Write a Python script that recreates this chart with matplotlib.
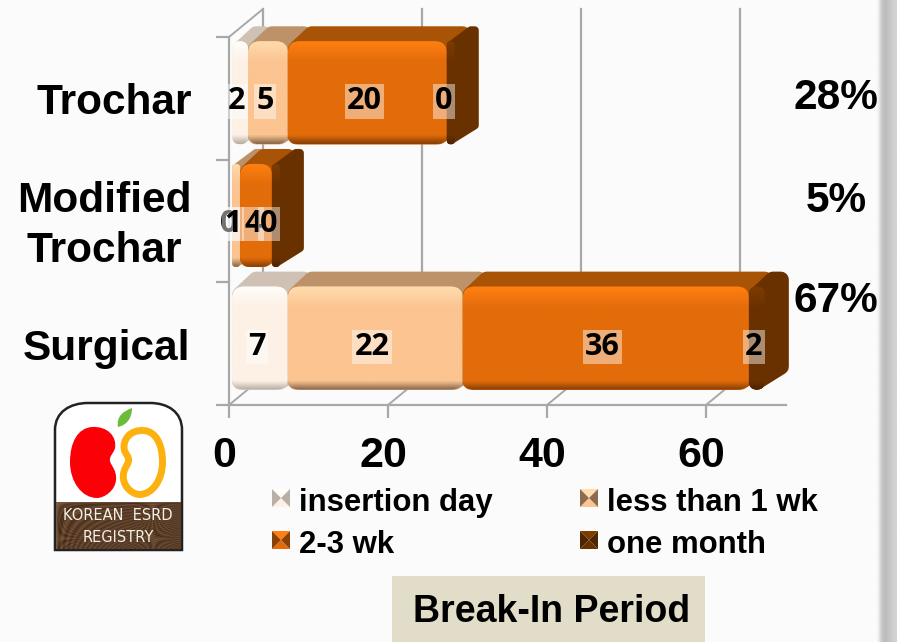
import numpy as np
import matplotlib
matplotlib.use("Agg")
import matplotlib.pyplot as plt
from matplotlib.colors import to_rgb
from matplotlib.patches import FancyBboxPatch, PathPatch, Polygon, Rectangle
from matplotlib.path import Path
from matplotlib.transforms import ScaledTranslation

# data, bottom row first
categories = ["Surgical", "Modified\nTrochar", "Trochar"]
series_names = ["insertion day", "less than 1 wk", "2-3 wk", "one month"]
insertion_day = [7, 0, 2]
less_than_1wk = [22, 1, 5]
two_three_wk = [36, 4, 20]
one_month = [2, 0, 0]
shares = ["67%", "5%", "28%"]
x_ticks = [0, 20, 40, 60]
y_ticks = [0, 1, 2, 3]

W, H = 897, 642
BG = "#fbfbfb"
GRID = "#a8a8a8"
SANS = "Liberation Sans"

# front, light edge, dark edge, top face
shades = [
    ("#fdf1e6", "#fffdfa", "#b9afa5", "#cfc2b4"),
    ("#fbc491", "#ffdcae", "#8d6b4c", "#bd9268"),
    ("#e36c0a", "#ff8011", "#8b4105", "#a85305"),
    ("#6a3100", "#7d3c02", "#4f2400", "#6a3100"),
]

fig = plt.figure(figsize=(W / 100, H / 100), dpi=100, facecolor=BG)

# pixel layer for everything outside the plot
bg = fig.add_axes([0, 0, 1, 1], zorder=0)
bg.set_xlim(0, W)
bg.set_ylim(H, 0)
bg.axis("off")

# grey band on the right edge
band = np.array([[0.98, 0.93, 0.85, 0.78, 0.75, 0.74, 0.75, 0.77, 0.79, 0.81, 0.82, 0.83]])
bg.imshow(band, extent=(876, W, H, 0), cmap="gray", vmin=0, vmax=1,
          aspect="auto", interpolation="bilinear")
bg.set_xlim(0, W)
bg.set_ylim(H, 0)

# plot area, front plane
px0, px1, py0, py1 = 229, 785.5, 405, 37
ax = fig.add_axes([px0 / W, 1 - py0 / H, (px1 - px0) / W, (py0 - py1) / H], zorder=1)
ax.patch.set_visible(False)
ax.set_xlim(0, 70)
ax.set_ylim(0, 3)
ux = (px1 - px0) / 70
uy = (py0 - py1) / 3

for s in ["top", "right"]:
    ax.spines[s].set_visible(False)
for s in ["left", "bottom"]:
    ax.spines[s].set_color(GRID)
    ax.spines[s].set_linewidth(1.6)
ax.set_xticks(x_ticks)
ax.set_yticks(y_ticks)
ax.set_yticklabels([])
ax.tick_params(axis="both", length=9.5, width=1.6, color=GRID)
ax.tick_params(axis="x", pad=13, labelsize=31)
# tick labels sit a little left of their ticks
shift = ScaledTranslation(-5 / 100, 0, fig.dpi_scale_trans)
for t in ax.get_xticklabels():
    t.set_fontfamily(SANS)
    t.set_fontweight("bold")
    t.set_transform(t.get_transform() + shift)

# back wall
wall_dx, wall_dy = 34 / ux, 28 / uy
for v in x_ticks:
    ax.plot([v + wall_dx] * 2, [wall_dy, 3 + wall_dy], color=GRID, lw=1.6,
            clip_on=False, zorder=1)
    ax.plot([v, v + wall_dx], [0, wall_dy], color=GRID, lw=1.4, clip_on=False, zorder=1)
ax.plot([0, wall_dx], [3, 3 + wall_dy], color=GRID, lw=1.4, clip_on=False, zorder=1)


def face_image(front, light, dark):
    """Front face shading, light along the top and dark along the bottom."""
    yy = np.linspace(0, 1, 60)[:, None]
    front, light, dark = [np.array(to_rgb(c)) for c in (front, light, dark)]
    top = np.clip(1 - yy / 0.2, 0, 1)
    bottom = np.clip((yy - 0.92) / 0.08, 0, 1)
    img = np.zeros((60, 1, 3))
    for i in range(3):
        img[:, :, i] = front[i] + (light[i] - front[i]) * top + (dark[i] - front[i]) * bottom
    return np.clip(img, 0, 1)


def draw_box(x0, width, row, colors, order):
    front, light, dark, top = colors
    x0 = x0 + 0.4
    width = max(width, 1.0)
    y0, h = row + 0.125, 0.84
    dx, dy = 24 / ux, 15 / uy
    r = min(1.5, width / 2)
    aspect = (12 / uy) / 1.5
    # top and side, a thick round outline on an inset shape gives the soft corners
    rad = min(8, width * ux / 2)
    ix, iy = rad / ux, rad / uy
    x1, y1 = x0 + width, y0 + h
    hull = [(x0 + ix, y1 - iy), (x0 + dx, y1 + dy - iy), (x1 + dx - ix, y1 + dy - iy),
            (x1 + dx - ix, y0 + dy + iy), (x1 - ix, y0 + iy), (x0 + ix, y0 + iy)]
    ax.add_patch(Polygon(hull, closed=True, fc=top, ec=top, lw=rad * 2 * 0.72,
                         joinstyle="round", clip_on=False, zorder=order))
    box = FancyBboxPatch((x0 + r, y0 + r * aspect), width - 2 * r, h - 2 * r * aspect,
                         boxstyle="round,pad=%.3f,rounding_size=%.3f" % (r, r),
                         mutation_aspect=aspect, fc=front, ec="none", clip_on=False,
                         zorder=order + 0.1)
    ax.add_patch(box)
    im = ax.imshow(face_image(front, light, dark), extent=(x0, x1, y0, y1),
                   aspect="auto", origin="upper", interpolation="bilinear",
                   zorder=order + 0.2)
    im.set_clip_path(box)


stack = [insertion_day, less_than_1wk, two_three_wk, one_month]
labels = []
order = 5
for row in [2, 1, 0]:
    left = 0
    for k, values in enumerate(stack):
        v = values[row]
        draw_box(left, v, row, shades[k], order)
        order += 1
        labels.append((left + v / 2, row + 0.475, v))
        left += v
for x, y, v in labels:
    ax.text(x, y, str(v), ha="center", va="center", fontsize=22, fontweight="bold",
            family="Open Sans", color="black", zorder=100, clip_on=False,
            bbox=dict(fc="white", ec="none", alpha=0.45, pad=1.5))
ax.set_xlim(0, 70)
ax.set_ylim(0, 3)

# category names and shares
cat_x = [190, 104, 192]
cat_ha = ["right", "center", "right"]
cat_y = [349, 226, 103]
for name, x, ha, y in zip(categories, cat_x, cat_ha, cat_y):
    bg.text(x, y, name, ha=ha, va="center", fontsize=30.5, fontweight="bold",
            family=SANS, linespacing=1.3)
for txt, y in zip(shares, [301, 201, 98]):
    bg.text(836, y, txt, ha="center", va="center", fontsize=30.5, fontweight="bold", family=SANS)


def swatch(x, y, colors, s=18):
    front, light, dark, top = colors
    cx, cy = x + s / 2, y + s / 2
    bg.add_patch(Polygon([(x, y), (x + s, y), (cx, cy)], fc=light, ec="none"))
    bg.add_patch(Polygon([(x, y + s), (x + s, y + s), (cx, cy)], fc=front, ec="none"))
    bg.add_patch(Polygon([(x, y), (x, y + s), (cx, cy)], fc=dark, ec="none"))
    bg.add_patch(Polygon([(x + s, y), (x + s, y + s), (cx, cy)], fc=dark, ec="none"))


# legend
for k, name in enumerate(series_names):
    lx = 272 if k % 2 == 0 else 580
    ly = 489 if k < 2 else 531
    swatch(lx, ly, shades[k])
    bg.text(lx + 27, ly + 14, name, ha="left", va="center", fontsize=22.4,
            fontweight="bold", family=SANS)

# x axis title box
bg.add_patch(Rectangle((392, 576), 313, 66, fc="#e1ddc9", ec="none"))
bg.text(552, 612, "Break-In Period", ha="center", va="center", fontsize=27,
        fontweight="bold", family=SANS)

# registry logo
outline = Path(
    [(55, 550), (55, 430), (55, 412), (70, 403), (88, 403), (150, 403), (168, 403),
     (182, 412), (182, 430), (182, 550), (55, 550)],
    [Path.MOVETO, Path.LINETO, Path.CURVE4, Path.CURVE4, Path.CURVE4, Path.LINETO,
     Path.CURVE4, Path.CURVE4, Path.CURVE4, Path.LINETO, Path.CLOSEPOLY])
logo = PathPatch(outline, fc="white", ec="#222222", lw=1.8, zorder=2)
bg.add_patch(logo)
u = np.linspace(0, 1, 90)
grain = 0.5 + 0.25 * np.sin(np.outer(u * 55, u * 3) + 2) + 0.25 * np.cos(np.outer(u * 9, u * 80))
soil = np.zeros((90, 90, 3))
for i, (a, b) in enumerate(zip(to_rgb("#3e2413"), to_rgb("#7a5a3e"))):
    soil[:, :, i] = a + (b - a) * grain
im = bg.imshow(soil, extent=(56, 181, 549, 502), aspect="auto", zorder=2.5)
im.set_clip_path(logo)
bg.set_xlim(0, W)
bg.set_ylim(H, 0)

kidney_xy = np.array([
    (92, 427), (108, 426), (117, 437), (115, 448), (114, 453), (109, 456), (110, 461),
    (111, 466), (117, 470), (116, 480), (115, 491), (104, 498), (97, 498), (82, 498),
    (70, 482), (70, 462), (70, 442), (78, 428), (92, 427)], dtype=float)
kidney_codes = [Path.MOVETO] + [Path.CURVE4] * 18
bg.add_patch(PathPatch(Path(kidney_xy, kidney_codes), fc="#fb0007", ec="none", zorder=3))
mirrored = kidney_xy.copy()
mirrored[:, 0] = 162.5 - 0.85 * (kidney_xy[:, 0] - 70)
mirrored[:, 1] = 430.5 + (kidney_xy[:, 1] - 427) * 64 / 71
bg.add_patch(PathPatch(Path(mirrored, kidney_codes), fc="none", ec="#fdb10f", lw=5, zorder=3))
leaf = Path([(118, 427), (116, 416), (124, 411), (132, 408), (132, 418), (127, 425), (118, 427)],
            [Path.MOVETO] + [Path.CURVE4] * 6)
bg.add_patch(PathPatch(leaf, fc="#6cbc3c", ec="none", zorder=3))
bg.text(118, 516, "KOREAN  ESRD", ha="center", va="center", color="#f4efe6", fontsize=10.5,
        family="DejaVu Sans", zorder=4)
bg.text(118, 537, "REGISTRY", ha="center", va="center", color="#f4efe6", fontsize=10.5,
        family="DejaVu Sans", zorder=4)

fig.savefig("out.png", dpi=100, facecolor=BG)
